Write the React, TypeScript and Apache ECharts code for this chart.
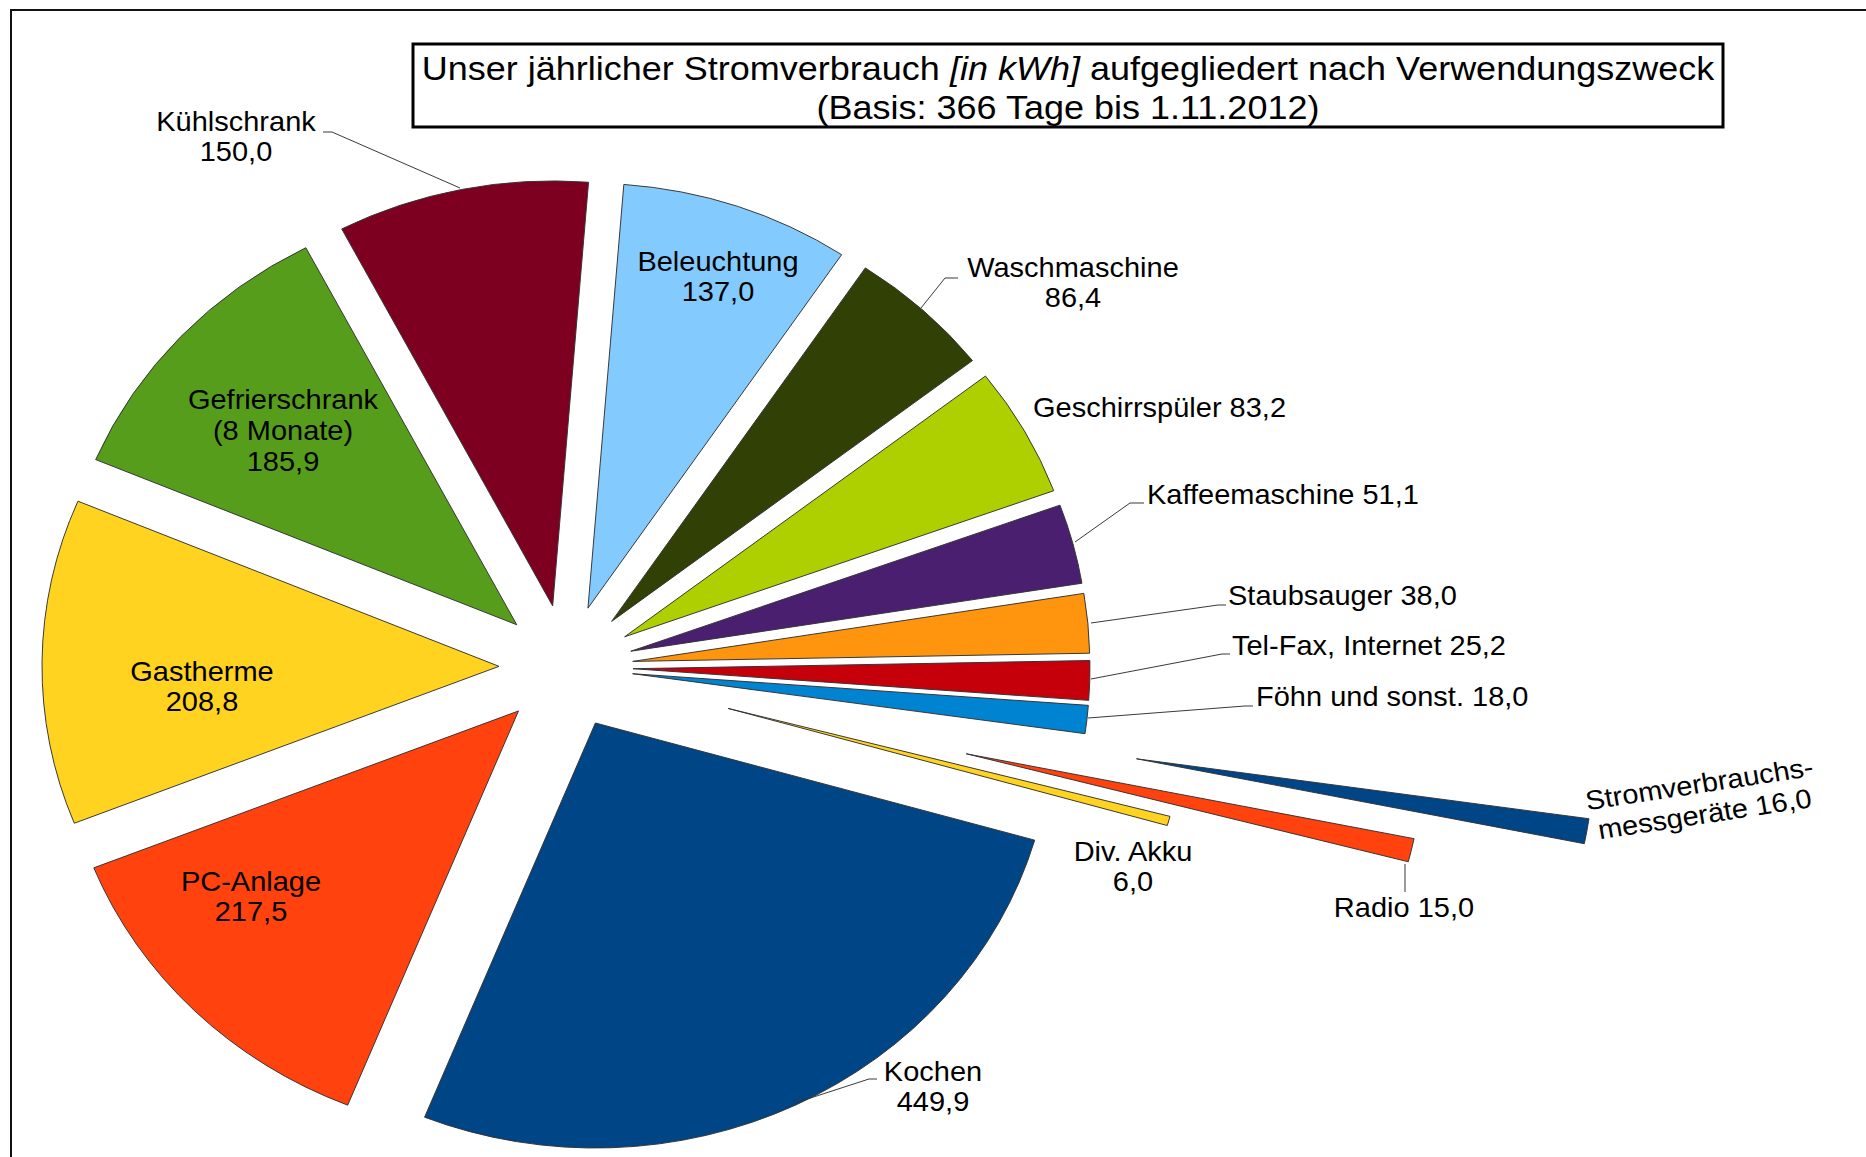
import React, { useEffect, useRef } from "react";
import * as echarts from "echarts";

// ---- data ----
const categories = [
  "Kochen",
  "PC-Anlage",
  "Gastherme",
  "Gefrierschrank\n(8 Monate)",
  "Kühlschrank",
  "Beleuchtung",
  "Waschmaschine",
  "Geschirrspüler",
  "Kaffeemaschine",
  "Staubsauger",
  "Tel-Fax, Internet",
  "Föhn und sonst.",
  "Stromverbrauchs-\nmessgeräte",
  "Radio",
  "Div. Akku",
];
const valuesKWh = [449.9, 217.5, 208.8, 185.9, 150.0, 137.0, 86.4, 83.2, 51.1, 38.0, 25.2, 18.0, 16.0, 15.0, 6.0];
const valueSeparators = ["\n", "\n", "\n", "\n", "\n", "\n", "\n", " ", " ", " ", " ", " ", " ", " ", "\n"];
const titleLine1a = "Unser jährlicher Stromverbrauch ";
const titleItalic = "[in kWh]";
const titleLine1b = " aufgegliedert nach Verwendungszweck";
const titleLine2 = "(Basis: 366 Tage bis 1.11.2012)";

// ---- styles / layout ----
const colors = ["#004586", "#ff420e", "#ffd320", "#579d1c", "#7e0021", "#83caff", "#314004", "#aecf00", "#4b1f6f", "#ff950e", "#c5000b", "#0084d1", "#004586", "#ff420e", "#ffd320"];
const explode = [67, 67, 67, 67, 67, 67, 67, 67, 67, 67, 67, 67, 579, 411, 168];
const SY = 0.93; // vertical squeeze of the reference picture
const W = 1866;
const H = 1157;
const PIE_CX = 566;
const PIE_CY = 667 / SY;
const PIE_R = 457;
const START_ANGLE = -16;
const FONT = "'Liberation Sans', Arial, sans-serif";

// label anchor positions (picture px), alignment, rotation (deg)
const labelX = [933, 251, 202, 283, 236, 718, 1073, 1033, 1147, 1228, 1232, 1256, 1702, 1404, 1133];
const labelY = [1087, 897, 687, 431, 137, 277, 283, 408, 495, 596, 646, 697, 799, 908, 867];
const labelAlign = ["center", "center", "center", "center", "center", "center", "center", "left", "left", "left", "left", "left", "center", "center", "center"];
const labelRotate = [0, 0, 0, 0, 0, 0, 0, 0, 0, 0, 0, 0, 9.25, 0, 0];

// leader lines (picture px)
const leaders: number[][][] = [
  [[323, 132], [332, 132], [460, 188]],
  [[958, 278], [945, 278], [921, 308]],
  [[1144, 503], [1130, 503], [1075, 542]],
  [[1226, 605], [1218, 605], [1091, 623]],
  [[1230, 654], [1222, 654], [1091, 679]],
  [[1253, 706], [1245, 706], [1088, 718]],
  [[1405, 864], [1405, 892]],
  [[877, 1079], [869, 1079], [795, 1103]],
];

const fmt = (v: number) => v.toFixed(1).replace(".", ",");

export default function App() {
  const ref = useRef<HTMLDivElement>(null);
  useEffect(() => {
    if (!ref.current) return;
    const chart = echarts.init(ref.current, undefined, { renderer: "svg" });
    const offsets = Array.from(new Set(explode));
    const series = offsets.map((off) => ({
      type: "pie",
      center: [PIE_CX, PIE_CY],
      radius: PIE_R,
      startAngle: START_ANGLE,
      clockwise: true,
      selectedMode: "multiple",
      selectedOffset: off,
      avoidLabelOverlap: false,
      silent: true,
      animation: false,
      label: { show: false },
      labelLine: { show: false },
      itemStyle: { borderColor: "#333", borderWidth: 1 },
      emphasis: { disabled: true },
      data: categories.map((name, i) => {
        const on = explode[i] === off;
        return {
          name,
          value: valuesKWh[i],
          selected: on,
          itemStyle: on ? { color: colors[i] } : { color: "rgba(0,0,0,0)", borderWidth: 0 },
        };
      }),
    }));

    const labels = categories.map((name, i) => ({
      type: "text",
      z: 12,
      x: labelX[i],
      y: labelY[i] / SY,
      rotation: (labelRotate[i] * Math.PI) / 180,
      style: {
        text: name + valueSeparators[i] + fmt(valuesKWh[i]),
        align: labelAlign[i],
        verticalAlign: "middle",
        fontFamily: FONT,
        fontSize: 29,
        lineHeight: 33,
        fill: "#000",
      },
    }));

    const graphic: any[] = [
      {
        type: "rect",
        z: 0,
        shape: { x: 11, y: 10 / SY, width: 4000, height: 4000 },
        style: { fill: "none", stroke: "#111", lineWidth: 2 },
      },
      {
        type: "rect",
        z: 10,
        shape: { x: 413, y: 44 / SY, width: 1310, height: 83 / SY },
        style: { fill: "#fff", stroke: "#000", lineWidth: 3 },
      },
      {
        type: "text",
        z: 11,
        x: 1068,
        y: 88 / SY,
        style: {
          text: titleLine1a + "{it|" + titleItalic + "}" + titleLine1b + "\n" + titleLine2,
          align: "center",
          verticalAlign: "middle",
          fontFamily: FONT,
          fontSize: 36,
          lineHeight: 41.5,
          fill: "#000",
          rich: {
            it: { fontStyle: "italic", fontFamily: FONT, fontSize: 36, lineHeight: 41.5, fill: "#000" },
          },
        },
      },
      ...leaders.map((pts) => ({
        type: "polyline",
        z: 10,
        shape: { points: pts.map(([x, y]) => [x, y / SY]) },
        style: { stroke: "#333", lineWidth: 1, fill: "none" },
      })),
      ...labels,
    ];

    chart.setOption({
      animation: false,
      backgroundColor: "#fff",
      series,
      graphic,
    } as any);
    return () => chart.dispose();
  }, []);
  return (
    <div
      ref={ref}
      style={{
        position: "fixed",
        left: 0,
        top: 0,
        width: W,
        height: H / SY,
        transform: `scaleY(${SY})`,
        transformOrigin: "0 0",
        background: "#fff",
      }}
    />
  );
}
